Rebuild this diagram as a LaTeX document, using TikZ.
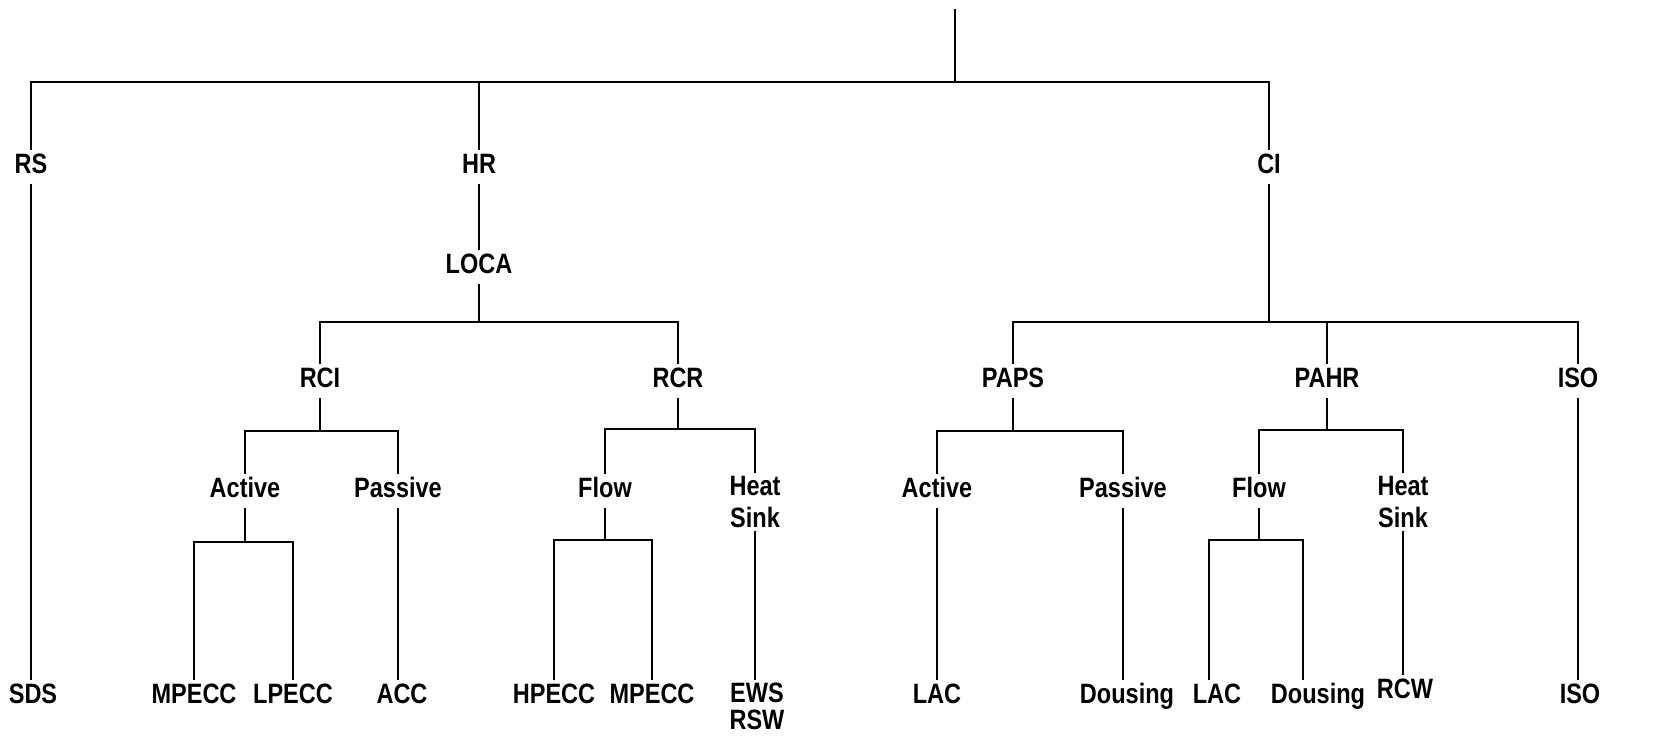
\documentclass[tikz,border=0pt]{standalone}
\usepackage{fontspec}
\setmainfont{Liberation Sans}[FakeStretch=0.84]
\tikzset{
  lab/.style={font=\fontsize{14}{16}\selectfont\bfseries, text height=10pt, text depth=4pt, inner sep=1.5pt, anchor=base},
  labtwo/.style={font=\fontsize{14}{16}\selectfont\bfseries, align=center, inner sep=1.5pt, anchor=north},
  ln/.style={line width=1.1pt}
}
\begin{document}
\begin{tikzpicture}[x=0.5pt,y=-0.5pt]
\useasboundingbox (0,0) rectangle (1658,735);
% nodes
\node[lab] (RS) at (31,173) {RS};
\node[lab] (HR) at (479,173) {HR};
\node[lab] (CI) at (1269,173) {CI};
\node[lab] (SDS) at (33,703) {SDS};
\node[lab] (LOCA) at (479,273) {LOCA};
\node[lab] (RCI) at (320,387) {RCI};
\node[lab] (RCR) at (678,387) {RCR};
\node[lab] (Act1) at (245,497) {Active};
\node[lab] (Pas1) at (398,497) {Passive};
\node[lab] (MP1) at (194,703) {MPECC};
\node[lab] (LP1) at (293,703) {LPECC};
\node[lab] (ACC) at (402,703) {ACC};
\node[lab] (Flow1) at (605,497) {Flow};
\node[labtwo] (HS1) at (755,473) {Heat\\Sink};
\node[lab] (HP) at (554,703) {HPECC};
\node[lab] (MP2) at (652,703) {MPECC};
\node[labtwo] (EWS) at (757,680) {EWS\\[-2.5pt]RSW};
\node[lab] (PAPS) at (1013,387) {PAPS};
\node[lab] (PAHR) at (1327,387) {PAHR};
\node[lab] (ISO1) at (1578,387) {ISO};
\node[lab] (Act2) at (937,497) {Active};
\node[lab] (Pas2) at (1123,497) {Passive};
\node[lab] (LAC1) at (937,703) {LAC};
\node[lab] (Dous1) at (1127,703) {Dousing};
\node[lab] (Flow2) at (1259,497) {Flow};
\node[labtwo] (HS2) at (1403,473) {Heat\\Sink};
\node[lab] (LAC2) at (1217,703) {LAC};
\node[lab] (Dous2) at (1318,703) {Dousing};
\node[lab] (RCW) at (1405,698) {RCW};
\node[lab] (ISO2) at (1580,703) {ISO};
% junctions
\coordinate (top) at (955,9);
\coordinate (b0) at (955,82);
\coordinate (b1) at (479,322);
\coordinate (b2) at (320,431);
\coordinate (b3) at (245,542);
\coordinate (b4) at (678,429);
\coordinate (b5) at (605,540);
\coordinate (b6) at (1269,322);
\coordinate (b7) at (1013,431);
\coordinate (b8) at (1327,430);
\coordinate (b9) at (1259,540);
\coordinate (b9l) at (1209,540);
\coordinate (b9r) at (1303,540);
% connectors
\draw[ln] (top) -- (b0);
\draw[ln] (RS.north) |- (b0) -| (CI.north);
\draw[ln] (HR.north) -- (HR.north |- b0);
\draw[ln] (RS.south) -- (RS.south |- SDS.north);
\draw[ln] (HR.south) -- (LOCA.north);
\draw[ln] (LOCA.south) -- (b1);
\draw[ln] (RCI.north) |- (b1) -| (RCR.north);
\draw[ln] (RCI.south) -- (b2);
\draw[ln] (Act1.north) |- (b2) -| (Pas1.north);
\draw[ln] (Act1.south) -- (b3);
\draw[ln] (MP1.north) |- (b3) -| (LP1.north);
\draw[ln] (Pas1.south) -- (Pas1.south |- ACC.north);
\draw[ln] (RCR.south) -- (b4);
\draw[ln] (Flow1.north) |- (b4) -| (HS1.north);
\draw[ln] (Flow1.south) -- (b5);
\draw[ln] (HP.north) |- (b5) -| (MP2.north);
\draw[ln] (HS1.south) -- (HS1.south |- EWS.north);
\draw[ln] (CI.south) -- (b6);
\draw[ln] (PAPS.north) |- (b6) -| (ISO1.north);
\draw[ln] (PAHR.north) -- (PAHR.north |- b6);
\draw[ln] (PAPS.south) -- (b7);
\draw[ln] (Act2.north) |- (b7) -| (Pas2.north);
\draw[ln] (Act2.south) -- (LAC1.north);
\draw[ln] (Pas2.south) -- (Pas2.south |- Dous1.north);
\draw[ln] (PAHR.south) -- (b8);
\draw[ln] (Flow2.north) |- (b8) -| (HS2.north);
\draw[ln] (Flow2.south) -- (b9);
\draw[ln] (LAC2.north -| b9l) |- (b9r) -- (b9r |- Dous2.north);
\draw[ln] (HS2.south) -- (HS2.south |- RCW.north);
\draw[ln] (ISO1.south) -- (ISO1.south |- ISO2.north);
\end{tikzpicture}
\end{document}
